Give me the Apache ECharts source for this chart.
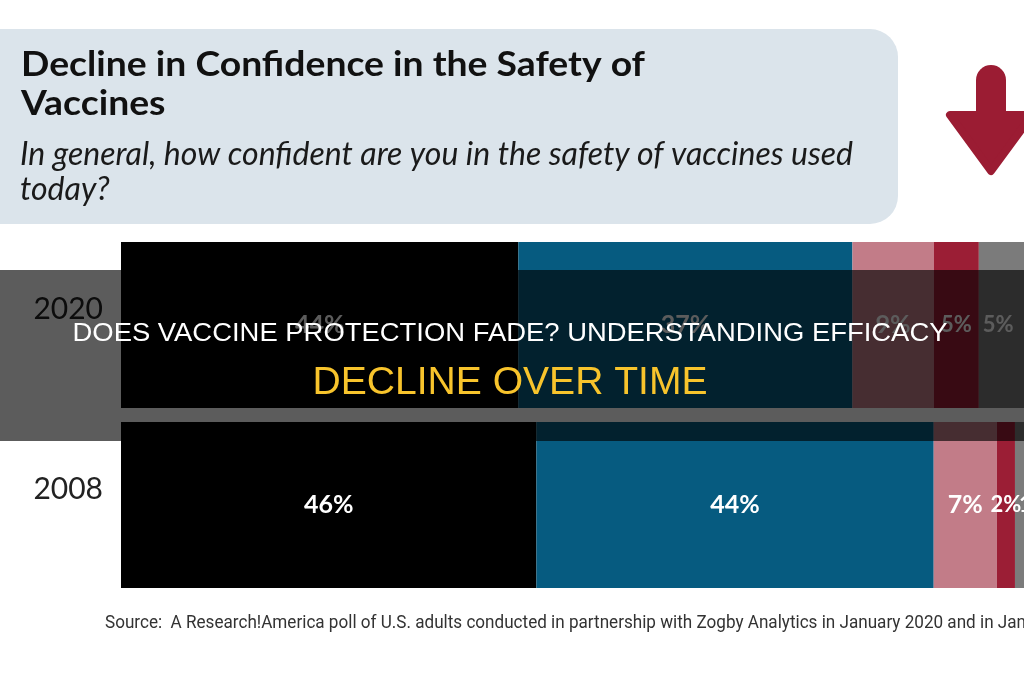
<!DOCTYPE html>
<html>
<head>
<meta charset="utf-8">
<title>Decline in Confidence in the Safety of Vaccines</title>
<script src="https://cdn.jsdelivr.net/npm/echarts@6/dist/echarts.min.js"></script>
<style>
  html, body { margin: 0; padding: 0; background: #ffffff; }
  #chart { width: 1024px; height: 680px; }
</style>
</head>
<body>
<div id="chart"></div>
<script>
// survey years (top to bottom)
const years = ['2020', '2008'];

// answer groups, left to right
const answerNames = ['Very confident', 'Somewhat confident', 'Not too confident', 'Not at all confident', 'Not sure'];
const veryConfident = [44, 46];
const somewhatConfident = [37, 44];
const notTooConfident = [9, 7];
const notAtAllConfident = [5, 2];
const notSure = [5, 1];

const titleLines = ['Decline in Confidence in the Safety of', 'Vaccines'];
const subtitleLines = ['In general, how confident are you in the safety of vaccines used', 'today?'];
const bannerLines = ['DOES VACCINE PROTECTION FADE? UNDERSTANDING EFFICACY', 'DECLINE OVER TIME'];
const sourceText = 'Source:  A Research!America poll of U.S. adults conducted in partnership with Zogby Analytics in January 2020 and in January 2008.';

const answerValues = [veryConfident, somewhatConfident, notTooConfident, notAtAllConfident, notSure];
const answerColors = ['#000000', '#065b80', '#c27c88', '#9b1e35', '#7b7b7b'];

// squeeze text horizontally so it spans the same width as in the picture
const measureCtx = document.createElement('canvas').getContext('2d');
function fitScale(text, font, targetWidth) {
  measureCtx.font = font;
  return targetWidth / measureCtx.measureText(text).width;
}

const titleFont = 'bold 34px Lato';
const subFont = 'italic 32px Lato';
const banner1Font = '26px "Liberation Sans"';
const banner2Font = '39px "Liberation Sans"';
const sourceFont = '19px Roboto';

const titleScale = fitScale(titleLines[0], titleFont, 624);
const subScale = fitScale(subtitleLines[0], subFont, 833);
const banner1Scale = fitScale(bannerLines[0], banner1Font, 875);
const banner2Scale = fitScale(bannerLines[1], banner2Font, 395);
const sourceScale = fitScale('Source:  A Research!America poll of U.S. adults conducted in partnership with Zogby Analytics in January 2020 and in Jan', sourceFont, 921);

function textEl(text, x, y, font, fill, scaleX, align, z) {
  return {
    type: 'text',
    x: x,
    y: y,
    scaleX: scaleX,
    z: z || 10,
    style: {
      text: text,
      font: font,
      fill: fill,
      align: align || 'left',
      verticalAlign: 'middle'
    }
  };
}

const chart = echarts.init(document.getElementById('chart'));

const option = {
  animation: false,
  backgroundColor: '#ffffff',
  grid: {
    left: 121,
    top: 235,
    width: 910,
    height: 360
  },
  xAxis: {
    type: 'value',
    min: 0,
    max: 100,
    show: false
  },
  yAxis: {
    type: 'category',
    data: years,
    inverse: true,
    axisLine: { show: false },
    axisTick: { show: false },
    splitLine: { show: false },
    axisLabel: {
      fontFamily: 'Lato',
      fontSize: 30,
      color: '#222222',
      margin: 18,
      verticalAlign: 'bottom',
      lineHeight: 32
    }
  },
  series: answerNames.map((name, i) => ({
    name: name,
    type: 'bar',
    stack: 'total',
    barWidth: 166,
    data: answerValues[i],
    itemStyle: { color: answerColors[i] },
    label: {
      show: true,
      position: i === 4 ? 'insideLeft' : 'inside',
      distance: 4,
      formatter: '{c}%',
      color: '#ffffff',
      fontFamily: 'Lato',
      fontWeight: 'bold',
      fontSize: i >= 3 ? 22 : 25
    }
  })),
  graphic: [
    // title panel
    {
      type: 'rect',
      z: 1,
      shape: { x: -40, y: 29, width: 938, height: 195, r: 28 },
      style: { fill: '#dbe4eb' }
    },
    textEl(titleLines[0], 21, 65, titleFont, '#111111', titleScale),
    textEl(titleLines[1], 21, 104, titleFont, '#111111', titleScale),
    textEl(subtitleLines[0], 20, 155, subFont, '#1a1a1a', subScale),
    textEl(subtitleLines[1], 20, 190, subFont, '#1a1a1a', subScale),
    // down arrow
    {
      type: 'rect',
      z: 5,
      shape: { x: 976, y: 65, width: 30, height: 60, r: [15, 15, 0, 0] },
      style: { fill: '#9b1c33' }
    },
    {
      type: 'polygon',
      z: 5,
      shape: { points: [[950, 115], [1032, 115], [991, 171]] },
      style: { fill: '#9b1c33', stroke: '#9b1c33', lineWidth: 8, lineJoin: 'round' }
    },
    // dark banner across the chart
    {
      type: 'rect',
      z: 100,
      shape: { x: 0, y: 270, width: 1024, height: 171 },
      style: { fill: 'rgba(0,0,0,0.64)' }
    },
    textEl(bannerLines[0], 510, 334, banner1Font, '#ffffff', banner1Scale, 'center', 101),
    textEl(bannerLines[1], 510, 383, banner2Font, '#f8c42c', banner2Scale, 'center', 101),
    // source note
    textEl(sourceText, 105, 623, sourceFont, '#333333', sourceScale)
  ]
};

chart.setOption(option);
</script>
</body>
</html>
